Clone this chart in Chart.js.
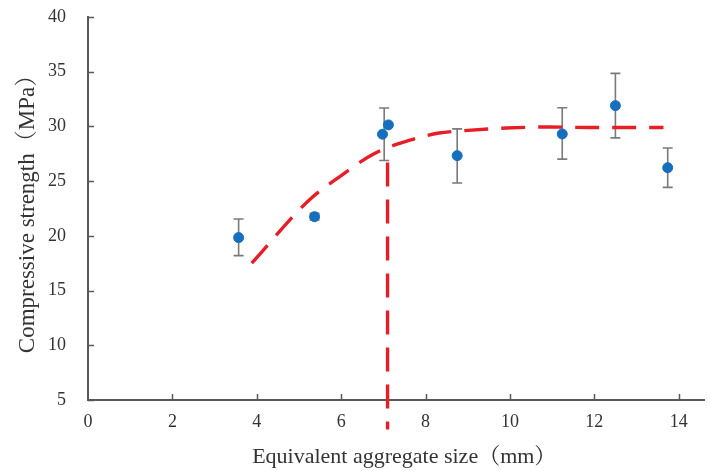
<!DOCTYPE html>
<html>
<head>
<meta charset="utf-8">
<script src="https://cdn.jsdelivr.net/npm/chart.js@4"></script>
<style>
html,body{margin:0;padding:0;background:#fff;}
#wrap{width:710px;height:471px;position:relative;}
</style>
</head>
<body>
<div id="wrap"><canvas id="c" width="710" height="471"></canvas></div>
<script>
// Measured data
const sizeX = [3.57, 5.37, 6.98, 7.12, 8.75, 11.24, 12.50, 13.74];
const strengthY = [19.84, 21.75, 29.29, 30.14, 27.33, 29.31, 31.90, 26.23];
const errUp = [1.7, 0.3, 2.4, 0, 2.45, 2.4, 2.95, 1.8];
const errDown = [1.65, 0.3, 2.4, 0, 2.5, 2.3, 2.95, 1.8];
const errX = [3.57, 5.37, 7.02, 7.12, 8.75, 11.24, 12.50, 13.74];

const fitX = [3.88, 5.25, 5.96, 6.78, 7.68, 8.32, 8.87, 9.91, 10.92, 11.87, 13.64];
const fitY = [17.5, 23.3, 25.4, 27.5, 28.8, 29.4, 29.6, 29.85, 29.95, 29.9, 29.9];

const markerX = [7.1, 7.1];
const markerY = [26.7, 2.3];

const xTicks = [0, 2, 4, 6, 8, 10, 12, 14];
const yTicks = [5, 10, 15, 20, 25, 30, 35, 40];

const FONT = "'Liberation Serif','Times New Roman','Noto Serif CJK SC','Noto Sans CJK SC',serif";
const RED = 'rgb(232,30,38)';
const BLUE = 'rgb(22,110,190)';
const AXIS = '#595959';

const errorBars = {
  id: 'errorBars',
  beforeDatasetsDraw(chart) {
    const {ctx, scales: {x, y}} = chart;
    ctx.save();
    ctx.strokeStyle = '#7a7a7a';
    ctx.lineWidth = 1.6;
    for (let i = 0; i < errX.length; i++) {
      if (!errUp[i] && !errDown[i]) continue;
      const px = x.getPixelForValue(errX[i]);
      const top = y.getPixelForValue(strengthY[i] + errUp[i]);
      const bot = y.getPixelForValue(strengthY[i] - errDown[i]);
      ctx.beginPath();
      ctx.moveTo(px, top); ctx.lineTo(px, bot);
      ctx.moveTo(px - 5, top); ctx.lineTo(px + 5, top);
      ctx.moveTo(px - 5, bot); ctx.lineTo(px + 5, bot);
      ctx.stroke();
    }
    ctx.restore();
  },
  afterDraw(chart) {
    const {ctx, scales: {x, y}, chartArea} = chart;
    ctx.save();
    ctx.strokeStyle = AXIS;
    ctx.lineWidth = 1.5;
    ctx.beginPath();
    yTicks.forEach(v => {
      const py = Math.round(y.getPixelForValue(v)) + 0.5;
      ctx.moveTo(chartArea.left, py); ctx.lineTo(chartArea.left + 6, py);
    });
    xTicks.forEach(v => {
      if (v === 0) return;
      const px = Math.round(x.getPixelForValue(v)) + 0.5;
      ctx.moveTo(px, chartArea.bottom); ctx.lineTo(px, chartArea.bottom - 6);
    });
    ctx.stroke();
    ctx.restore();
  }
};

new Chart(document.getElementById('c'), {
  type: 'scatter',
  data: {
    datasets: [
      {
        data: markerX.map((v, i) => ({x: v, y: markerY[i]})),
        showLine: true, borderColor: RED, borderWidth: 3.4, borderDash: [24, 13],
        pointRadius: 0, clip: false, order: 3
      },
      {
        data: fitX.map((v, i) => ({x: v, y: fitY[i]})),
        showLine: true, borderColor: RED, borderWidth: 3.4, borderDash: [24, 13],
        cubicInterpolationMode: 'monotone', pointRadius: 0, order: 2
      },
      {
        data: sizeX.map((v, i) => ({x: v, y: strengthY[i]})),
        backgroundColor: BLUE, borderColor: BLUE, pointRadius: 5, pointHoverRadius: 5, order: 1
      }
    ]
  },
  options: {
    responsive: false,
    animation: false,
    events: [],
    layout: {padding: {top: 17, right: 4, left: 0, bottom: 0}},
    plugins: {legend: {display: false}, tooltip: {enabled: false}},
    scales: {
      x: {
        type: 'linear', min: 0, max: 14.6,
        afterBuildTicks: s => { s.ticks = xTicks.map(v => ({value: v})); },
        afterFit: s => { s.height = 71; s.paddingLeft = 0; s.paddingRight = 0; },
        grid: {display: false, drawTicks: false},
        border: {display: true, color: AXIS, width: 2},
        ticks: {font: {family: FONT, size: 18}, color: '#333', padding: 11, maxRotation: 0, autoSkip: false},
        title: {display: true, text: '   Equivalent aggregate size（mm）', font: {family: FONT, size: 22}, color: '#333', padding: {top: 0, bottom: 1}}
      },
      y: {
        type: 'linear', min: 5, max: 40,
        afterBuildTicks: s => { s.ticks = yTicks.map(v => ({value: v})); },
        afterFit: s => { s.width = 88; s.paddingTop = 0; s.paddingBottom = 0; },
        grid: {display: false, drawTicks: false},
        border: {display: true, color: AXIS, width: 2},
        ticks: {font: {family: FONT, size: 18}, color: '#333', padding: 22},
        title: {display: true, text: 'Compressive strength（MPa）', font: {family: FONT, size: 23}, color: '#333', padding: {top: 14, bottom: 0}}
      }
    }
  },
  plugins: [errorBars]
});
</script>
</body>
</html>
